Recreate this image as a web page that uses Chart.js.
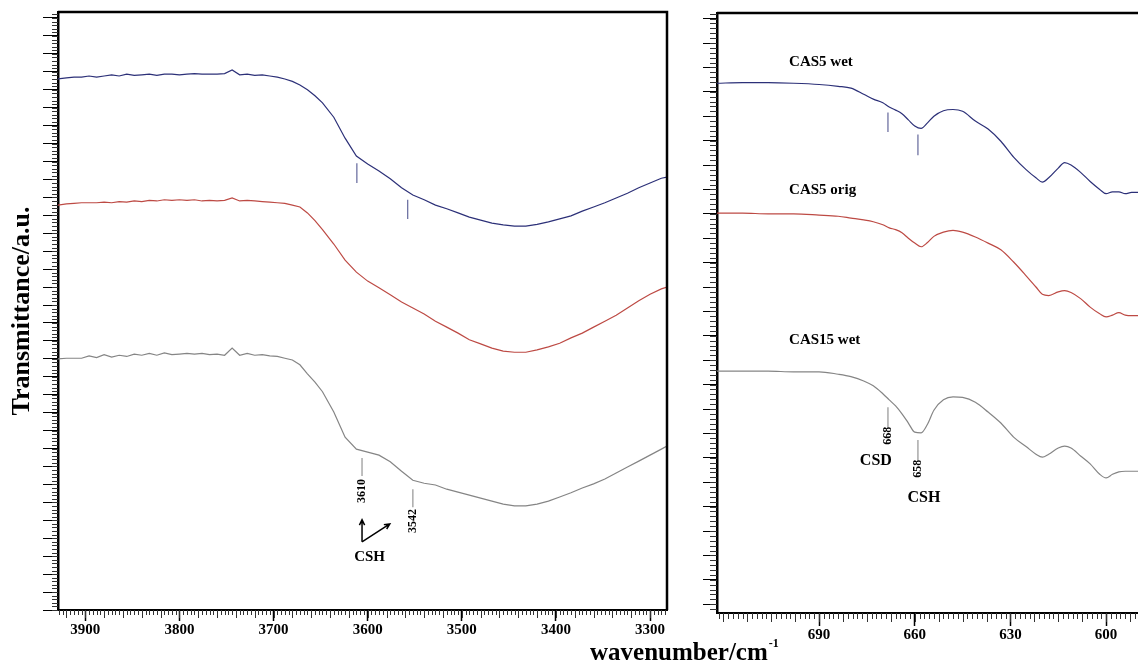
<!DOCTYPE html>
<html>
<head>
<meta charset="utf-8">
<script src="https://cdn.jsdelivr.net/npm/chart.js@4.4.1/dist/chart.umd.min.js"></script>
<style>
  html, body { margin: 0; padding: 0; background: #fff; overflow: hidden; }
  #wrap { position: relative; width: 1138px; height: 668px; }
  canvas { position: absolute; left: 0; top: 0; }
</style>
</head>
<body>
<div id="wrap">
  <canvas id="leftChart" width="1138" height="668"></canvas>
  <canvas id="rightChart" width="1138" height="668"></canvas>
</div>
<script>
"use strict";

Chart.defaults.font.family = '"Liberation Serif", "Times New Roman", serif';
Chart.defaults.color = '#000';

// ---- left panel: O-H stretching region (wavenumber, transmittance a.u.) ----
const leftWave = [3930, 3920, 3912, 3904, 3896, 3888, 3880, 3872, 3864, 3856, 3848, 3840, 3832, 3824, 3816, 3808, 3800, 3792,
  3784, 3776, 3768, 3760, 3752, 3744, 3736, 3728, 3720, 3712, 3704, 3696, 3688, 3680, 3672, 3664, 3656, 3648,
  3636, 3624, 3612, 3600, 3588, 3576, 3564, 3552, 3540, 3528, 3516, 3504, 3492, 3480, 3468, 3456, 3444, 3432,
  3420, 3408, 3396, 3384, 3372, 3360, 3348, 3336, 3324, 3312, 3300, 3288, 3282];
const leftBlue = [88.8, 89.0, 89.1, 89.1, 89.3, 89.1, 89.3, 89.5, 89.3, 89.6, 89.4, 89.5, 89.6, 89.4, 89.6, 89.6, 89.5, 89.6,
  89.7, 89.6, 89.6, 89.6, 89.7, 90.3, 89.5, 89.6, 89.4, 89.5, 89.3, 89.1, 88.8, 88.4, 87.8, 87.0, 86.0, 84.8,
  82.4, 78.9, 75.9, 74.6, 73.4, 72.1, 70.6, 69.4, 68.6, 67.7, 67.1, 66.4, 65.7, 65.2, 64.7, 64.4, 64.2, 64.2,
  64.5, 64.9, 65.4, 65.9, 66.7, 67.4, 68.1, 68.9, 69.7, 70.6, 71.4, 72.2, 72.4];
const leftRed = [67.7, 67.9, 68.0, 68.1, 68.1, 68.1, 68.2, 68.1, 68.3, 68.2, 68.4, 68.3, 68.5, 68.4, 68.6, 68.5, 68.6, 68.5,
  68.6, 68.4, 68.5, 68.4, 68.5, 68.9, 68.4, 68.5, 68.4, 68.3, 68.2, 68.1, 68.0, 67.7, 67.4, 66.4, 65.1, 63.6,
  61.2, 58.5, 56.5, 55.0, 53.9, 52.7, 51.5, 50.5, 49.5, 48.3, 47.3, 46.3, 45.2, 44.5, 43.8, 43.3, 43.1, 43.1,
  43.5, 44.0, 44.6, 45.5, 46.3, 47.3, 48.3, 49.3, 50.5, 51.7, 52.8, 53.7, 54.0];
const leftGray = [42.0, 42.1, 42.1, 42.1, 42.5, 42.2, 42.7, 42.3, 42.6, 42.4, 42.8, 42.6, 42.9, 42.6, 43.0, 42.7, 42.8, 42.9,
  42.8, 42.9, 42.7, 42.8, 42.6, 43.8, 42.6, 42.9, 42.6, 42.7, 42.5, 42.4, 42.1, 41.8, 41.0, 39.5, 38.1, 36.5,
  33.1, 28.9, 26.9, 26.4, 25.9, 24.8, 23.2, 21.7, 21.2, 20.9, 20.2, 19.7, 19.2, 18.7, 18.2, 17.7, 17.4, 17.4,
  17.7, 18.2, 18.9, 19.6, 20.4, 21.1, 21.9, 22.9, 23.9, 24.9, 25.9, 26.9, 27.4];
const leftTickLabels = [3900, 3800, 3700, 3600, 3500, 3400, 3300];

// ---- right panel: 720-590 cm-1 region ----
const rightWave = [722, 714, 706, 698, 690, 684, 680, 676, 673, 670, 668, 666, 664, 662, 660, 658, 656, 654, 651, 648,
  645, 641, 637, 633, 629, 625, 622, 620, 618, 615, 613, 611, 608, 605, 602, 600, 598, 596, 594, 592, 590];
const rightBlue = [85.4, 85.5, 85.5, 85.4, 85.2, 84.9, 84.6, 83.6, 82.8, 82.2, 81.5, 81.0, 80.4, 79.4, 78.4, 78.0, 78.9, 80.0, 80.9, 81.1,
  80.8, 79.2, 77.9, 75.9, 73.3, 71.2, 69.9, 69.2, 69.9, 71.5, 72.4, 72.0, 70.8, 69.3, 68.0, 67.3, 67.6, 67.6, 67.3, 67.5, 67.5];
const rightRed = [64.1, 64.1, 64.0, 64.0, 63.8, 63.6, 63.3, 63.0, 62.7, 62.2, 61.7, 61.4, 60.9, 60.0, 59.2, 58.6, 59.3, 60.3, 61.0, 61.3,
  61.0, 60.2, 59.2, 58.1, 56.1, 53.8, 52.0, 50.8, 50.6, 51.2, 51.4, 51.1, 50.1, 48.7, 47.6, 47.1, 47.4, 47.8, 47.4, 47.3, 47.3];
const rightGray = [38.2, 38.2, 38.2, 38.1, 38.1, 37.7, 37.3, 36.6, 35.8, 34.5, 33.5, 32.5, 31.2, 29.7, 28.2, 28.1, 29.5, 31.8, 33.5, 34.0,
  33.9, 33.1, 31.5, 29.7, 27.4, 25.8, 24.6, 24.1, 24.6, 25.6, 25.9, 25.6, 24.3, 23.0, 21.3, 20.7, 21.3, 21.7, 21.8, 21.8, 21.8];
const rightTickLabels = [690, 660, 630, 600];

const sampleNames = ['CAS5 wet', 'CAS5 orig', 'CAS15 wet'];
const leftBandLabels = ['3610', '3542'];
const rightBandLabels = ['668', '658'];

// band marker positions (data units)
const leftMarks = [
  {x: 3611.5, y: [74.7, 71.4], c: 'blueMark'}, {x: 3557.5, y: [68.6, 65.4], c: 'blueMark'},
  {x: 3606, y: [25.4, 22.4], c: 'grayMark'}, {x: 3552, y: [20.2, 17.2], c: 'grayMark'}
];
const rightMarks = [
  {x: 668.4, y: [80.6, 77.4], c: 'blueMark'}, {x: 659, y: [77.0, 73.6], c: 'blueMark'},
  {x: 668.4, y: [32.3, 29.0], c: 'grayMark'}, {x: 659, y: [26.9, 23.6], c: 'grayMark'}
];

const colors = {blue: '#2c3078', red: '#bd4a44', gray: '#858585', blueMark: '#6f73a3', grayMark: '#9c9c9c'};

function curve(xs, ys, color) {
  return {data: xs.map((x, i) => ({x: x, y: ys[i]})), borderColor: color, borderWidth: 1.2,
    pointRadius: 0, fill: false, tension: 0};
}
function smooth(xs, ys, color) {
  const d = curve(xs, ys, color);
  d.cubicInterpolationMode = 'monotone';
  return d;
}
function marker(m) {
  return {data: [{x: m.x, y: m.y[0]}, {x: m.x, y: m.y[1]}], borderColor: colors[m.c], borderWidth: 1.3, pointRadius: 0};
}

// top / right frame lines
const frame = {
  id: 'frame',
  afterDraw(chart, args, opts) {
    const {ctx, chartArea: a} = chart;
    ctx.save();
    ctx.strokeStyle = '#000';
    ctx.lineWidth = opts.width || 2.5;
    ctx.beginPath();
    ctx.moveTo(a.left, a.top);
    ctx.lineTo(a.right, a.top);
    if (opts.right) ctx.lineTo(a.right, a.bottom);
    ctx.stroke();
    ctx.restore();
  }
};

// minor tick combs along the axes
const comb = {
  id: 'comb',
  afterDraw(chart, args, opts) {
    const {ctx, chartArea: a, scales} = chart;
    ctx.save();
    ctx.strokeStyle = '#333';
    ctx.lineWidth = 1;
    (opts.x || []).forEach(t => {
      const s = scales.x;
      for (let k = Math.ceil(s.min / t.step - 1e-6); k * t.step <= s.max + 1e-6; k++) {
        const px = Math.round(s.getPixelForValue(k * t.step)) + 0.5;
        ctx.beginPath();
        ctx.moveTo(px, a.bottom);
        ctx.lineTo(px, a.bottom + t.len);
        ctx.stroke();
      }
    });
    (opts.y || []).forEach(t => {
      const s = scales.y;
      for (let k = Math.ceil(s.min / t.step - 1e-6); k * t.step <= s.max + 1e-6; k++) {
        const py = Math.round(s.getPixelForValue(k * t.step)) + 0.5;
        ctx.beginPath();
        ctx.moveTo(a.left - t.len, py);
        ctx.lineTo(a.left, py);
        ctx.stroke();
      }
    });
    ctx.restore();
  }
};

// text notes and arrows in data coordinates
const notes = {
  id: 'notes',
  afterDatasetsDraw(chart, args, opts) {
    const {ctx, scales: {x, y}} = chart;
    ctx.save();
    ctx.fillStyle = '#000';
    (opts.texts || []).forEach(t => {
      ctx.save();
      ctx.translate(x.getPixelForValue(t.x), y.getPixelForValue(t.y));
      if (t.rotate) ctx.rotate(-Math.PI / 2);
      ctx.font = 'bold ' + t.size + 'px "Liberation Serif"';
      ctx.textAlign = t.align || 'center';
      ctx.textBaseline = 'middle';
      ctx.fillText(t.text, 0, 0);
      ctx.restore();
    });
    ctx.strokeStyle = '#000';
    ctx.lineWidth = 1.5;
    (opts.arrows || []).forEach(ar => {
      const x0 = x.getPixelForValue(ar.from[0]), y0 = y.getPixelForValue(ar.from[1]);
      const x1 = x.getPixelForValue(ar.to[0]), y1 = y.getPixelForValue(ar.to[1]);
      const ang = Math.atan2(y1 - y0, x1 - x0);
      ctx.beginPath();
      ctx.moveTo(x0, y0);
      ctx.lineTo(x1, y1);
      ctx.moveTo(x1 - 6 * Math.cos(ang - 0.45), y1 - 6 * Math.sin(ang - 0.45));
      ctx.lineTo(x1, y1);
      ctx.lineTo(x1 - 6 * Math.cos(ang + 0.45), y1 - 6 * Math.sin(ang + 0.45));
      ctx.stroke();
    });
    ctx.restore();
  }
};

// shared x axis title with superscript
const xTitle = {
  id: 'xTitle',
  afterDraw(chart, args, opts) {
    const ctx = chart.ctx;
    ctx.save();
    ctx.fillStyle = '#000';
    ctx.textAlign = 'left';
    ctx.textBaseline = 'alphabetic';
    ctx.font = 'bold 25px "Liberation Serif"';
    ctx.fillText(opts.text, opts.left, opts.baseline);
    const w = ctx.measureText(opts.text).width;
    ctx.font = 'bold 12px "Liberation Serif"';
    ctx.fillText(opts.sup, opts.left + w + 1, opts.baseline - 13);
    ctx.restore();
  }
};

const tickFont = {family: '"Liberation Serif"', size: 15, weight: 'bold'};

new Chart(document.getElementById('leftChart'), {
  type: 'line',
  data: {
    datasets: [
      curve(leftWave, leftBlue, colors.blue),
      curve(leftWave, leftRed, colors.red),
      curve(leftWave, leftGray, colors.gray)
    ].concat(leftMarks.map(marker))
  },
  options: {
    responsive: false,
    animation: false,
    events: [],
    layout: {padding: {left: 0, top: 12, right: 471, bottom: 0}},
    plugins: {
      legend: {display: false},
      tooltip: {enabled: false},
      frame: {right: true, width: 2.5},
      comb: {x: [{step: 20, len: 8}, {step: 4, len: 5}], y: [{step: 0.6, len: 6}]},
      notes: {
        texts: [
          {text: leftBandLabels[0], x: 3606, y: 19.9, size: 12, rotate: true},
          {text: leftBandLabels[1], x: 3552, y: 14.9, size: 12, rotate: true},
          {text: 'CSH', x: 3598, y: 8.9, size: 15}
        ],
        arrows: [
          {from: [3606, 11.4], to: [3606, 15.1]},
          {from: [3606, 11.4], to: [3576.5, 14.4]}
        ]
      }
    },
    scales: {
      x: {
        type: 'linear', reverse: true, min: 3282, max: 3929,
        afterBuildTicks: s => { s.ticks = leftTickLabels.map(v => ({value: v})); },
        afterFit: s => { s.height = 58; },
        ticks: {font: tickFont, color: '#000', padding: 0, maxRotation: 0, autoSkip: false, callback: v => String(v)},
        grid: {drawOnChartArea: false, tickLength: 11, tickColor: '#000', tickWidth: 1.5},
        border: {display: true, color: '#000', width: 2}
      },
      y: {
        type: 'linear', min: 0, max: 100,
        afterFit: s => { s.width = 58; },
        ticks: {stepSize: 3, includeBounds: false, display: false},
        grid: {drawOnChartArea: false, tickLength: 15, tickColor: '#000', tickWidth: 1},
        border: {display: true, color: '#000', width: 2.5},
        title: {
          display: true, text: 'Transmittance/a.u.', color: '#000',
          font: {family: '"Liberation Serif"', size: 26, weight: 'bold', lineHeight: 1},
          padding: {top: 9, bottom: 0}
        }
      }
    }
  },
  plugins: [frame, comb, notes]
});

new Chart(document.getElementById('rightChart'), {
  type: 'line',
  data: {
    datasets: [
      smooth(rightWave, rightBlue, colors.blue),
      smooth(rightWave, rightRed, colors.red),
      smooth(rightWave, rightGray, colors.gray)
    ].concat(rightMarks.map(marker))
  },
  options: {
    responsive: false,
    animation: false,
    events: [],
    layout: {padding: {left: 0, top: 13, right: 0, bottom: 0}},
    plugins: {
      legend: {display: false},
      tooltip: {enabled: false},
      frame: {right: false, width: 2.5},
      comb: {x: [{step: 7.5, len: 9}, {step: 1.5, len: 6}], y: [{step: 0.8, len: 7}]},
      notes: {
        texts: [
          {text: sampleNames[0], x: 699.4, y: 88.9, size: 15, align: 'left'},
          {text: sampleNames[1], x: 699.4, y: 67.9, size: 15, align: 'left'},
          {text: sampleNames[2], x: 699.4, y: 43.3, size: 15, align: 'left'},
          {text: rightBandLabels[0], x: 668.4, y: 27.6, size: 12, rotate: true},
          {text: rightBandLabels[1], x: 659, y: 22.2, size: 12, rotate: true},
          {text: 'CSD', x: 672.2, y: 23.5, size: 16},
          {text: 'CSH', x: 657.1, y: 17.4, size: 16}
        ]
      },
      xTitle: {text: 'wavenumber/cm', sup: '-1', left: 590, baseline: 660}
    },
    scales: {
      x: {
        type: 'linear', reverse: true, min: 590, max: 722,
        afterBuildTicks: s => { s.ticks = rightTickLabels.map(v => ({value: v})); },
        afterFit: s => { s.height = 55; },
        ticks: {font: tickFont, color: '#000', padding: 0, maxRotation: 0, autoSkip: false, callback: v => String(v)},
        grid: {drawOnChartArea: false, tickLength: 13, tickColor: '#000', tickWidth: 1.5},
        border: {display: true, color: '#000', width: 2}
      },
      y: {
        type: 'linear', min: -1.44, max: 96.92,
        afterFit: s => { s.width = 717; },
        ticks: {stepSize: 4, includeBounds: false, display: false},
        grid: {drawOnChartArea: false, tickLength: 14, tickColor: '#000', tickWidth: 1},
        border: {display: true, color: '#000', width: 2.5}
      }
    }
  },
  plugins: [frame, comb, notes, xTitle]
});
</script>
</body>
</html>
